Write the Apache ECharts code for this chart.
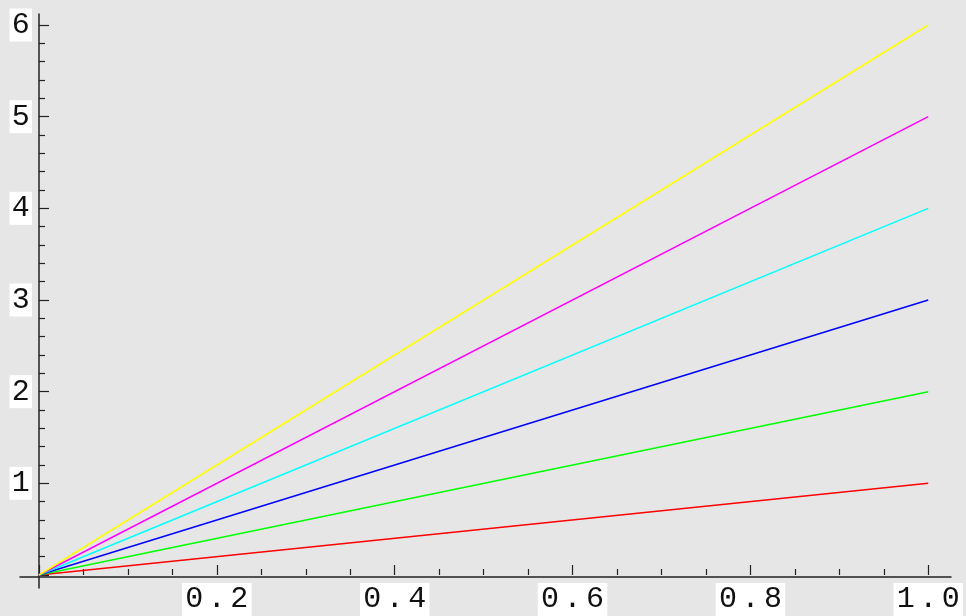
<!DOCTYPE html>
<html>
<head>
<meta charset="utf-8">
<script src="https://cdn.jsdelivr.net/npm/echarts@6/dist/echarts.min.js"></script>
<style>
html,body{margin:0;padding:0;background:#e6e6e6;}
#chart{width:966px;height:616px;}
</style>
</head>
<body>
<div id="chart"></div>
<script>
// Data
var xValues = [0, 1];
var redY = [0, 1];
var greenY = [0, 2];
var blueY = [0, 3];
var cyanY = [0, 4];
var magentaY = [0, 5];
var yellowY = [0, 6];
var xTickLabels = ['0.2', '0.4', '0.6', '0.8', '1.0'];
var yTickLabels = ['1', '2', '3', '4', '5', '6'];

function pairs(ys) { return xValues.map(function (x, i) { return [x, ys[i]]; }); }
function spaced(s) {
  return s.split('').map(function (c) { return '{c|' + c + '}'; }).join('');
}
var FONT = '"Liberation Mono", "DejaVu Sans Mono", monospace';
var richC = { c: { width: 22.5, align: 'center', fontFamily: FONT, fontSize: 30, color: '#111', lineHeight: 33, height: 33 } };
var AX = '#222';

var chart = echarts.init(document.getElementById('chart'), null, { renderer: 'canvas' });
var series = [
  { name: 'r', ys: redY, color: '#ff0000' },
  { name: 'g', ys: greenY, color: '#00ff00' },
  { name: 'b', ys: blueY, color: '#0000ff' },
  { name: 'c', ys: cyanY, color: '#00ffff' },
  { name: 'm', ys: magentaY, color: '#ff00ff' },
  { name: 'y', ys: yellowY, color: '#ffff00' }
].map(function (s) {
  return {
    type: 'line', xAxisIndex: 0, yAxisIndex: 0, data: pairs(s.ys), showSymbol: false, symbol: 'none',
    lineStyle: { color: s.color, width: 1.5 }, silent: true, animation: false, z: 3
  };
});

chart.setOption({
  backgroundColor: '#e6e6e6',
  animation: false,
  grid: [
    { left: 39, right: 34, top: 25, bottom: 39, containLabel: false },
    { left: 20, right: 15, top: 14, bottom: 28, containLabel: false }
  ],
  xAxis: [
    {
      type: 'value', gridIndex: 0, min: 0, max: 1, interval: 0.2,
      axisLine: { show: false },
      axisTick: { show: true, inside: true, length: 10, lineStyle: { color: AX, width: 1.2 } },
      minorTick: { show: true, splitNumber: 4, length: 6, lineStyle: { color: AX, width: 1.2 } },
      splitLine: { show: false },
      axisLabel: {
        show: true, margin: 8, showMinLabel: false,
        formatter: function (v) {
          var idx = Math.round(v / 0.2) - 1;
          return idx >= 0 && idx < xTickLabels.length ? spaced(xTickLabels[idx]) : '';
        },
        rich: richC, backgroundColor: '#ffffff', padding: [0, 1]
      }
    },
    {
      type: 'value', gridIndex: 1, min: -0.0213, max: 1.0213,
      axisLine: { show: true, onZero: true, lineStyle: { color: AX, width: 1.5 } },
      axisTick: { show: false }, axisLabel: { show: false }, splitLine: { show: false }
    }
  ],
  yAxis: [
    {
      type: 'value', gridIndex: 0, min: 0, max: 6, interval: 1,
      axisLine: { show: false },
      axisTick: { show: true, inside: true, length: 10, lineStyle: { color: AX, width: 1.2 } },
      minorTick: { show: true, splitNumber: 5, length: 6, lineStyle: { color: AX, width: 1.2 } },
      splitLine: { show: false },
      axisLabel: {
        show: true, margin: 7, showMinLabel: false,
        formatter: function (v) {
          var idx = Math.round(v) - 1;
          return idx >= 0 && idx < yTickLabels.length ? spaced(yTickLabels[idx]) : '';
        },
        rich: richC, backgroundColor: '#ffffff', padding: [0, 0]
      }
    },
    {
      type: 'value', gridIndex: 1, min: -0.12, max: 6.12,
      axisLine: { show: true, onZero: true, lineStyle: { color: AX, width: 1.5 } },
      axisTick: { show: false }, axisLabel: { show: false }, splitLine: { show: false }
    }
  ],
  series: series
});
</script>
</body>
</html>
